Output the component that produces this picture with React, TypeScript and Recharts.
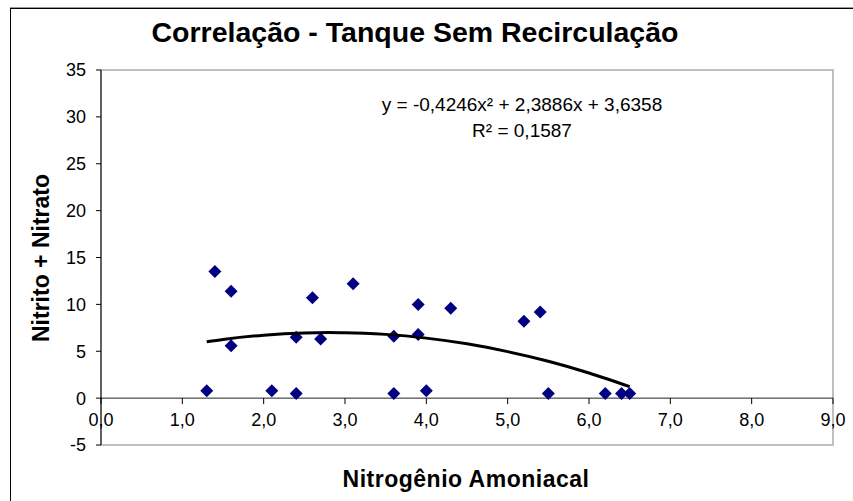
import { ReferenceArea, ReferenceLine, Scatter, ScatterChart, XAxis, YAxis } from "recharts";

// Nitrogênio amoniacal (x) vs nitrito + nitrato (y)
const nitrogenio = [1.3, 1.4, 1.6, 1.6, 2.1, 2.4, 2.4, 2.6, 2.7, 3.1, 3.6, 3.6, 3.9, 3.9, 4.0, 4.3, 5.2, 5.4, 5.5, 6.2, 6.4, 6.5];
const nitritoNitrato = [0.8, 13.5, 11.4, 5.6, 0.8, 6.5, 0.5, 10.7, 6.3, 12.2, 6.6, 0.5, 10.0, 6.8, 0.8, 9.6, 8.2, 9.2, 0.5, 0.5, 0.5, 0.5];

// polynomial trendline
const trendX = [1.3, 1.5, 2.0, 2.5, 2.8, 3.0, 3.5, 4.0, 4.5, 5.0, 5.5, 6.0, 6.5];
const trendY = [6.02, 6.26, 6.71, 6.95, 6.99, 6.98, 6.8, 6.4, 5.79, 4.96, 3.93, 2.68, 1.22];

const xTicks = [0, 1, 2, 3, 4, 5, 6, 7, 8, 9];
const yTicks = [-5, 0, 5, 10, 15, 20, 25, 30, 35];

const points = nitrogenio.map((x, i) => ({ x, y: nitritoNitrato[i] }));
const trend = trendX.map((x, i) => ({ x, y: trendY[i] }));

const FONT = '"Liberation Sans", Arial, sans-serif';
const PLOT_TOP = 70;
const PLOT_H = 375;
const ZERO_Y = PLOT_TOP + (PLOT_H * 35) / 40;

function Diamond(props: any) {
  const { cx, cy } = props;
  const r = 6.5;
  return <polygon points={`${cx},${cy - r} ${cx + r},${cy} ${cx},${cy + r} ${cx - r},${cy}`} fill="#000080" />;
}

function XTick(props: any) {
  const { x, payload } = props;
  return (
    <g>
      <line x1={x} x2={x} y1={ZERO_Y} y2={ZERO_Y + 6} stroke="#000" />
      <text x={x} y={ZERO_Y + 28} textAnchor="middle" fontSize={18} fontFamily={FONT} fill="#000">
        {Number(payload.value).toFixed(1).replace(".", ",")}
      </text>
    </g>
  );
}

export default function App() {
  return (
    <div style={{ position: "absolute", left: 0, top: 0, width: 853, height: 501, overflow: "hidden", background: "#fff", fontFamily: FONT }}>
      <div style={{ position: "absolute", left: 10, top: 8, width: 900, height: 600, borderTop: "1.5px solid #000", borderLeft: "1.5px solid #000", boxShadow: "0 -1px 0 #999" }} />
      <ScatterChart width={853} height={501} margin={{ top: PLOT_TOP, right: 20, bottom: 26, left: 41 }}>
        <ReferenceArea x1={0} x2={9} y1={-5} y2={35} fill="none" stroke="#c0c0c0" strokeWidth={2} />
        <XAxis
          type="number"
          dataKey="x"
          domain={[0, 9]}
          ticks={xTicks}
          height={30}
          axisLine={false}
          tickLine={false}
          tick={<XTick />}
          interval={0}
        />
        <YAxis
          type="number"
          dataKey="y"
          domain={[-5, 35]}
          ticks={yTicks}
          width={60}
          interval={0}
          axisLine={{ stroke: "#000" }}
          tickLine={{ stroke: "#000" }}
          tickSize={5}
          tickMargin={10}
          tick={{ fontSize: 18, fontFamily: FONT, fill: "#000" }}
        />
        <ReferenceLine y={0} stroke="#222" />
        <Scatter data={points} shape={<Diamond />} isAnimationActive={false} />
        <Scatter
          data={trend}
          line={{ stroke: "#000", strokeWidth: 3 }}
          lineJointType="monotoneX"
          shape={() => <g />}
          isAnimationActive={false}
        />
      </ScatterChart>
      <div style={{ position: "absolute", left: 0, width: 830, top: 16, textAlign: "center", fontSize: 28.5, fontWeight: "bold" }}>
        Correlação - Tanque Sem Recirculação
      </div>
      <div style={{ position: "absolute", left: 322, width: 400, top: 92, textAlign: "center", fontSize: 19, lineHeight: "26px" }}>
        y = -0,4246x² + 2,3886x + 3,6358
        <br />
        R² = 0,1587
      </div>
      <div style={{ position: "absolute", left: 266, width: 400, top: 466, textAlign: "center", fontSize: 23, fontWeight: "bold", letterSpacing: 0.5 }}>
        Nitrogênio Amoniacal
      </div>
      <div
        style={{
          position: "absolute",
          left: 41 - 150,
          top: 258 - 14,
          width: 300,
          textAlign: "center",
          fontSize: 23,
          fontWeight: "bold",
          lineHeight: "28px",
          transform: "rotate(-90deg)",
        }}
      >
        Nitrito + Nitrato
      </div>
    </div>
  );
}
